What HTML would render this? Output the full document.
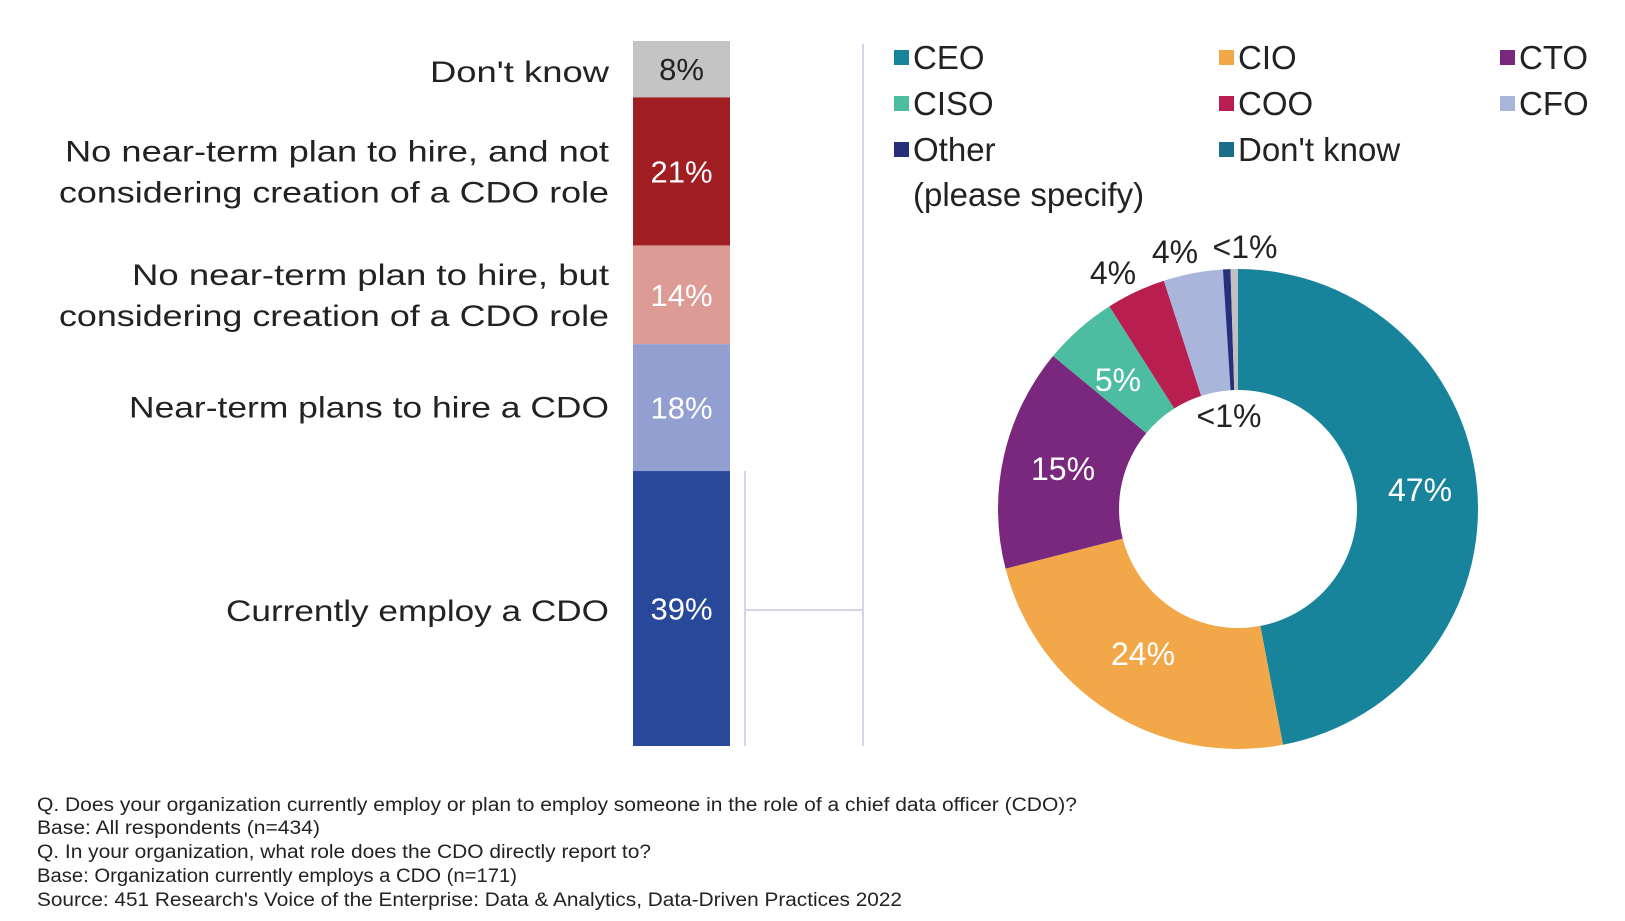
<!DOCTYPE html>
<html><head><meta charset="utf-8"><style>
html,body{margin:0;padding:0;background:#fff;}
svg{display:block;font-family:"Liberation Sans",sans-serif;}
</style></head><body>
<svg id="chart" width="1625" height="921" viewBox="0 0 1625 921">
<g id="bar"></g>
<g id="labels"></g>
<g stroke="#d4d4ea" stroke-width="2" fill="none">
  <line x1="745" y1="471" x2="745" y2="746"/>
  <line x1="745" y1="610" x2="863" y2="610"/>
  <line x1="863" y1="44" x2="863" y2="746"/>
</g>
<g id="donut"></g>
<g id="legend"></g>
<g font-size="19" fill="#222">
  <text x="37" y="811" textLength="1040" lengthAdjust="spacingAndGlyphs">Q. Does your organization currently employ or plan to employ someone in the role of a chief data officer (CDO)?</text>
  <text x="37" y="834" textLength="283" lengthAdjust="spacingAndGlyphs">Base: All respondents (n=434)</text>
  <text x="37" y="858" textLength="614" lengthAdjust="spacingAndGlyphs">Q. In your organization, what role does the CDO directly report to?</text>
  <text x="37" y="882" textLength="480" lengthAdjust="spacingAndGlyphs">Base: Organization currently employs a CDO (n=171)</text>
  <text x="37" y="906" textLength="865" lengthAdjust="spacingAndGlyphs">Source: 451 Research's Voice of the Enterprise: Data &amp; Analytics, Data-Driven Practices 2022</text>
</g>
</svg>
<script>
var NS="http://www.w3.org/2000/svg";
var barCategories=["Don't know","No near-term plan to hire, and not|considering creation of a CDO role","No near-term plan to hire, but|considering creation of a CDO role","Near-term plans to hire a CDO","Currently employ a CDO"];
var barValues=[8,21,14,18,39];
var barLabels=["8%","21%","14%","18%","39%"];
var barColors=["#c4c4c4","#a01e22","#dc9b94","#929fd0","#284899"];
var labelWidths={"Don't know":179,"No near-term plan to hire, and not":544,"considering creation of a CDO role":550,"No near-term plan to hire, but":477,"Near-term plans to hire a CDO":480,"Currently employ a CDO":383};
var donutCategories=["CEO","CIO","CTO","CISO","COO","CFO","Other (please specify)","Don't know"];
var donutValues=[47,24,15,5,4,4,0.5,0.5];
var donutLabels=["47%","24%","15%","5%","4%","4%","<1%","<1%"];
var donutColors=["#17849c","#f2a848","#7a287d","#4dbda1","#b91e50","#a9b5da","#26307a","#c0c0c0"];
var legendColors=["#17849c","#f2a848","#7a287d","#4dbda1","#b91e50","#a9b5da","#26307a","#1a6e8a"];

function mk(tag,attrs,parent){var e=document.createElementNS(NS,tag);for(var k in attrs)e.setAttribute(k,attrs[k]);parent.appendChild(e);return e;}
var bx=633,bw=97,bTop=41,bBot=746;
var total=barValues.reduce(function(a,b){return a+b;},0);
function yScale(v){return bTop+(bBot-bTop)*v/total;}
var bar=document.getElementById('bar'),lab=document.getElementById('labels');
var acc=0;
barValues.forEach(function(v,i){
  var y0=yScale(acc),y1=yScale(acc+v);acc+=v;
  var r=mk('rect',{x:bx,y:y0,width:bw,height:y1-y0,fill:barColors[i]},bar);
  
  
  var cy=(y0+y1)/2;
  var t=mk('text',{x:bx+bw/2,y:cy+11,'text-anchor':'middle','font-size':31,fill:i==0?'#222':'#fff'},bar);
  t.textContent=barLabels[i];
  
  
  var lines=barCategories[i].split('|');
  var ly=(i==4)?621:(lines.length==1?cy+10:cy-10);
  if(i==0)ly=82;
  lines.forEach(function(s,j){
    var tt=mk('text',{x:609,y:ly+j*41,'text-anchor':'end','font-size':30,fill:'#222',textLength:labelWidths[s]||0,lengthAdjust:'spacingAndGlyphs'},lab);
    tt.textContent=s;
    
    
  });
});
var cx=1238,cy=509,R=240,r0=119;
var dTotal=donutValues.reduce(function(a,b){return a+b;},0);
function ang(v){return v/dTotal*2*Math.PI;}
function pt(a,rad){return [cx+rad*Math.sin(a),cy-rad*Math.cos(a)];}
var dg=document.getElementById('donut');var a0=0;
var labPos=[[1420,501],[1143,665],[1063,480],[1118,391],[1113,284],[1175,263],[1229,427],[1245,258]];
donutValues.forEach(function(v,i){
  var a1=a0+ang(v);var p1=pt(a0,R),p2=pt(a1,R),p3=pt(a1,r0),p4=pt(a0,r0);var lg=(a1-a0)>Math.PI?1:0;
  var d="M"+p1+" A"+R+" "+R+" 0 "+lg+" 1 "+p2+" L"+p3+" A"+r0+" "+r0+" 0 "+lg+" 0 "+p4+"Z";
  var p=mk('path',{d:d.replace(/,/g,' '),fill:donutColors[i]},dg);
  
  
  a0=a1;
});
donutValues.forEach(function(v,i){
  var inside=i<4;
  var t=mk('text',{x:labPos[i][0],y:labPos[i][1],'text-anchor':'middle','font-size':32,fill:inside?'#fff':'#222'},dg);
  t.textContent=donutLabels[i];
  
  
});
var lgPos=[[894,57],[1219,57],[1500,57],[894,103],[1219,103],[1500,103],[894,149],[1219,149]];
var lgd=document.getElementById('legend');
donutCategories.forEach(function(c,i){
  var g=mk('g',{},lgd);
  
  
  mk('rect',{x:lgPos[i][0],y:lgPos[i][1]-7,width:15,height:15,fill:legendColors[i]},g);
  var t=mk('text',{x:lgPos[i][0]+19,y:lgPos[i][1]+12,'font-size':33,fill:'#222'},g);
  if(i==6){t.textContent="Other";var t2=mk('text',{x:lgPos[i][0]+19,y:lgPos[i][1]+57,'font-size':33,fill:'#222'},g);t2.textContent="(please specify)";}
  else t.textContent=c;
});
</script>
</body></html>
